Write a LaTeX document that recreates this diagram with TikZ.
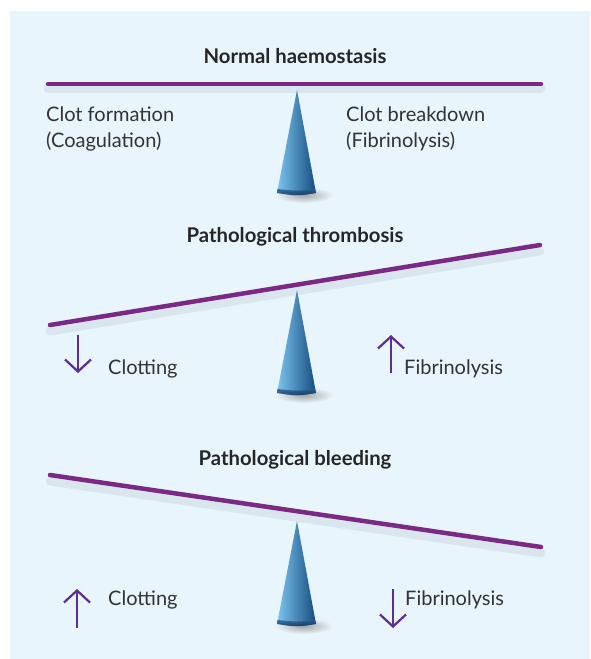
\documentclass[tikz,border=0pt]{standalone}
\usepackage{fontspec}
\setmainfont{Lato}
\usetikzlibrary{arrows.meta}
\definecolor{panel}{HTML}{E8F5FC}
\definecolor{beamc}{HTML}{7A2A84}
\definecolor{arrowc}{HTML}{5E2D91}
\definecolor{conelight}{HTML}{7CC4EE}
\definecolor{conedark}{HTML}{134C80}
\tikzset{
  heading/.style={anchor=base, font=\fontsize{20.3}{24}\selectfont\bfseries, text=black!85, inner sep=0pt},
  lbl/.style={anchor=base west, font=\fontsize{20}{24}\selectfont, text=black!80, inner sep=0pt},
  beam/.style={draw=beamc, line width=4.5pt, line cap=round},
  beamshadow/.style={draw=black, opacity=.06, line width=9pt, line cap=round},
  trend/.style={draw=arrowc, line width=2.2pt, -{Straight Barb[length=12pt,width=26pt,line width=2.2pt]}},
}
\newcommand{\fulcrum}[2]{% apex x, apex y
  \shade[inner color=black!35, outer color=panel] (#1+7,#2+105) ellipse (29 and 8);
  \shade[left color=conelight, right color=conedark] (#1,#2) -- (#1+19,#2+103) .. controls (#1,#2+106) .. (#1-20,#2+103) -- cycle;
  \shade[top color=conedark!90, bottom color=conedark!60!black, opacity=.8] (#1+19,#2+103) .. controls (#1,#2+106) .. (#1-20,#2+103) -- (#1-19.4,#2+99) .. controls (#1,#2+101) .. (#1+18.3,#2+99) -- cycle;
}
\begin{document}
\begin{tikzpicture}[x=1pt,y=-1pt]
  \useasboundingbox (0,0) rectangle (590,659);
  \fill[panel] (10,11) rectangle (590,659);

  % normal
  \node[heading] (t1) at (295,63) {Normal haemostasis};
  \coordinate (b1l) at (48,84);
  \coordinate (b1r) at (541,84);
  \draw[beamshadow] ([yshift=-4pt]b1l) -- ([yshift=-4pt]b1r);
  \draw[beam] (b1l) -- (b1r);
  \fulcrum{297}{90}
  \node[lbl] (cf) at (46,121) {Clot formation};
  \node[lbl] (coag) at (46,147) {(Coagulation)};
  \node[lbl] (cb) at (346,121) {Clot breakdown};
  \node[lbl] (fib) at (346,147) {(Fibrinolysis)};

  % thrombosis
  \node[heading] (t2) at (295,242) {Pathological thrombosis};
  \coordinate (b2l) at (50,325);
  \coordinate (b2r) at (540,245);
  \draw[beamshadow] ([yshift=-6pt]b2l) -- ([yshift=-6pt]b2r);
  \draw[beam] (b2l) -- (b2r);
  \fulcrum{297}{290}
  \coordinate (a2t) at (78,335);
  \coordinate (a2b) at (78,373);
  \draw[trend] (a2t) -- (a2b);
  \node[lbl] (c2) at (108,374) {Clotting};
  \coordinate (f2t) at (391,335);
  \coordinate (f2b) at (391,373);
  \draw[trend] (f2b) -- (f2t);
  \node[lbl] (f2) at (404,374) {Fibrinolysis};

  % bleeding
  \node[heading] (t3) at (295,465) {Pathological bleeding};
  \coordinate (b3l) at (50,475);
  \coordinate (b3r) at (541,547);
  \draw[beamshadow] ([yshift=-6pt]b3l) -- ([yshift=-6pt]b3r);
  \draw[beam] (b3l) -- (b3r);
  \fulcrum{297}{521}
  \coordinate (a3t) at (77,589);
  \coordinate (a3b) at (77,628);
  \draw[trend] (a3b) -- (a3t);
  \node[lbl] (c3) at (108,605) {Clotting};
  \coordinate (f3t) at (393,589);
  \coordinate (f3b) at (393,628);
  \draw[trend] (f3t) -- (f3b);
  \node[lbl] (f3) at (405,605) {Fibrinolysis};
\end{tikzpicture}
\end{document}
